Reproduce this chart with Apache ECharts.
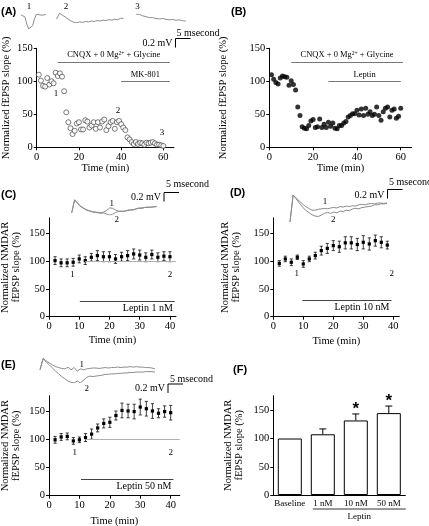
<!DOCTYPE html>
<html><head><meta charset="utf-8">
<script src="https://cdn.jsdelivr.net/npm/echarts@6/dist/echarts.min.js"></script>
<style>html,body{margin:0;padding:0;background:#fff}#c{width:429px;height:526px}</style>
</head><body><div id="c"></div>
<script>
// ---------------- DATA ----------------
const timesA = [1,2,3,4,5,6,7,8,9,10,11,12,13,14,15,16,17,18,19,20,21,22,23,24,25,26,27,28,29,30,31,32,33,34,35,36,37,38,39,40,41,42,43,44,45,46,47,48,49,50,51,52,53,54,55,56,57,58,59,60];
const valuesA = [110,101,93,92,105,95,100,97,113,108,112,107,85,53,38,29,20,25,36,38,27,27,41,39,30,33,38,28,38,30,39,42,26,32,38,40,28,38,40,35,30,26,15,12,8,5,8,5,7,6,4,7,6,7,8,6,4,4,3,2];
const timesB = [1,2,3,4,5,6,7,8,9,10,11,12,13,14,15,16,17,18,19,20,21,22,23,24,25,26,27,28,29,30,31,32,33,34,35,36,37,38,39,40,41,42,43,44,45,46,47,48,49,50,51,52,53,54,55,56,57,58,59,60];
const valuesB = [110,103,98,96,105,108,107,106,94,101,95,87,61,48,31,29,28,33,40,42,30,31,43,30,35,30,38,32,37,29,28,33,33,37,39,46,48,51,51,56,49,58,48,59,50,54,48,50,61,48,41,54,59,61,46,56,58,44,47,59];
const timesC = [2,4,6,8,10,12,14,16,18,20,22,24,26,28,30,32,34,36,38,40];
const meansC = [101,97,97,98,104,101,107,110,108,108,104,108,110,113,111,107,112,107,109,108];
const errC   = [7,7,7,7,7,7,7,9,9,9,8,8,9,9,9,8,8,8,8,9];
const timesD = [2,4,6,8,10,12,14,16,18,20,22,24,26,28,30,32,34,36,38];
const meansD = [96,104,98,107,95,104,110,119,123,128,126,133,133,130,134,131,137,134,129];
const errD   = [5,5,6,4,6,5,6,8,9,9,10,11,11,11,12,11,10,10,7];
const timesE = [2,4,6,8,10,12,14,16,18,20,22,24,26,28,30,32,34,36,38,40];
const meansE = [99,104,105,97,99,103,109,120,128,130,142,151,150,149,157,154,150,146,149,147];
const errE   = [6,6,6,6,5,7,9,7,8,9,8,13,12,13,14,13,13,8,10,13];
const catsF  = ['Baseline','1 nM','10 nM','50 nM'];
const meansF = [100,107.5,132,145];
const errF   = [0,9.5,11.5,12.5];
const sigF   = [false,false,true,true];
const xTicksAB  = [0,20,40,60];
const xTicksCDE = [0,10,20,30,40];
const yTicks    = [0,50,100,150];
// drug application bars: [label, start, end, level]
const drugA = [['CNQX + 0 Mg{sup|2+} + Glycine',10,63,129],['MK-801',40,63,100.5]];
const drugB = [['CNQX + 0 Mg{sup|2+} + Glycine',10,61,129],['Leptin',27,60,100.5]];
const drugC = [['Leptin 1 nM',10.2,41.6,27]];
const drugD = [['Leptin 10 nM',9.7,39.4,30]];
const drugE = [['Leptin 50 nM',10.5,40.9,29.6]];
const refC = [12,42,100], refD = [12,42.2,100], refE = [12,43,100];
// sample-point labels [text, time, level]
const ptLabA = [['1',9.1,81],['2',38.5,56],['3',59.4,21.6]];
const ptLabC = [['1',7.8,76],['2',40,76]];
const ptLabD = [['1',7.8,78],['2',39.5,78]];
const ptLabE = [['1',8.5,77],['2',40,77]];
// example fEPSP traces (mV, uniformly sampled)
const traceA1 = [0,0.02,-0.04,-0.2,-0.31,-0.33,-0.24,-0.09,0.02,0.02,0,0,0,0.02];
const traceA2 = [-0.02,0.11,0.07,0.03,-0.02,-0.06,-0.09,-0.10,-0.08,-0.09,-0.07,-0.08,-0.06,-0.07,-0.05,-0.06,-0.04,-0.05,-0.03,-0.04,-0.02,-0.03,0.0,0.0];
const traceA3 = [0,-0.01,-0.04,-0.06,-0.08,-0.08,-0.10,-0.11,-0.10,-0.12,-0.13,-0.12,-0.14,-0.13,-0.15,-0.16];
const traceC1 = [-0.13,0.16,0.09,0.02,-0.02,-0.06,-0.08,-0.10,-0.11,-0.12,-0.13,-0.11,-0.07,-0.02,-0.03,-0.07,-0.09,-0.10,-0.09,-0.08,-0.07,-0.06,-0.04,-0.03,-0.02,-0.01,-0.01,0,0,0.01];
const traceC2 = [-0.13,0.16,0.08,0.01,-0.03,-0.07,-0.09,-0.11,-0.12,-0.13,-0.14,-0.13,-0.16,-0.18,-0.16,-0.12,-0.10,-0.09,-0.10,-0.07,-0.06,-0.07,-0.04,-0.02,-0.03,-0.01,0,-0.01,0.01,0.01];
const traceD1 = [-0.42,0.18,0.11,0.04,-0.02,-0.08,-0.12,-0.16,-0.16,-0.14,-0.13,-0.12,-0.13,-0.11,-0.10,-0.11,-0.08,-0.09,-0.07,-0.08,-0.06,-0.07,-0.04,-0.03,-0.04,-0.02,-0.01,-0.02,0,0,-0.01,0];
const traceD2 = [-0.42,0.18,0.09,0,-0.09,-0.16,-0.21,-0.26,-0.29,-0.30,-0.27,-0.23,-0.21,-0.23,-0.20,-0.22,-0.18,-0.19,-0.16,-0.17,-0.13,-0.12,-0.13,-0.10,-0.09,-0.08,-0.07,-0.04,-0.04,-0.02,-0.02,-0.01];
const traceE1 = [-0.04,0.21,0.16,0.11,0.07,0.03,0.01,-0.01,-0.02,0.02,-0.04,0.01,-0.07,-0.02,-0.04,-0.02,-0.01,0,0,-0.01,0,0.01,0,0.01,0.01,0.02,0.01,0.02,0.02,0.03,0.02,0.03,0.02,0.02,0.01,0.01,0,-0.02];
const traceE2 = [-0.04,0.21,0.13,0.07,0,-0.07,-0.13,-0.19,-0.24,-0.29,-0.32,-0.33,-0.29,-0.33,-0.27,-0.21,-0.18,-0.19,-0.18,-0.17,-0.16,-0.14,-0.14,-0.13,-0.13,-0.12,-0.12,-0.11,-0.11,-0.10,-0.10,-0.09,-0.09,-0.09,-0.08,-0.08,-0.08,-0.09];

// ---------------- BUILD ----------------
const SERIF = 'Liberation Serif', SANS = 'Liberation Sans';
const grids = [], xAxes = [], yAxes = [], series = [], graphics = [];
function addGrid(g){ grids.push(Object.assign({outerBoundsMode:'none', containLabel:false}, g)); return grids.length - 1; }
const txt = {fontFamily:SERIF, color:'#000'};

function mainAxes(gi, xmax, xticks, ymax, yname, yGap, xGap){
  xAxes.push({type:'value', gridIndex:gi, min:0, max:xmax,
    axisLine:{show:true, onZero:false, lineStyle:{color:'#000', width:1}},
    axisTick:{show:true, length:3, customValues:xticks, lineStyle:{color:'#000'}},
    axisLabel:Object.assign({customValues:xticks, fontSize:10.5, margin:4}, txt),
    splitLine:{show:false},
    name:'Time (min)', nameLocation:'middle', nameGap:xGap, nameTextStyle:Object.assign({fontSize:10.5}, txt)});
  yAxes.push({type:'value', gridIndex:gi, min:0, max:ymax,
    axisLine:{show:true, onZero:false, lineStyle:{color:'#000', width:1}},
    axisTick:{show:true, length:3, customValues:yTicks, lineStyle:{color:'#000'}},
    axisLabel:Object.assign({customValues:yTicks, fontSize:10.5, margin:4}, txt),
    splitLine:{show:false},
    name:yname, nameLocation:'middle', nameGap:yGap, nameTextStyle:Object.assign({fontSize:10.5, lineHeight:11}, txt)});
}
function drugLines(list, pos, color, fs){
  return list.map(d => [
    {coord:[d[1], d[3]], label:{show:true, formatter:d[0], position:pos, distance:2, fontFamily:SERIF, fontSize:fs, color:'#000',
      rich:{sup:{fontSize:5.5, verticalAlign:'top', fontFamily:SERIF, padding:[0,0,4,0]}}},
     lineStyle:{color:color, width:1, type:'solid'}},
    {coord:[d[2], d[3]]}
  ]);
}
function refLine(r){
  return [[{coord:[r[0], r[2]], label:{show:false}, lineStyle:{color:'#b0b0b0', width:1, type:'solid'}}, {coord:[r[1], r[2]]}]];
}
function ptLabels(list){
  return list.map(p => ({coord:[p[1], p[2]], symbol:'circle', symbolSize:0,
    label:{show:true, formatter:p[0], position:'inside', fontFamily:SERIF, fontSize:9, color:'#000'}}));
}
function errSeries(gi, times, means, errs, extra){
  return Object.assign({type:'custom', xAxisIndex:gi, yAxisIndex:gi, z:3,
    data: times.map((t,i) => [t, means[i], errs[i]]),
    renderItem(params, api){
      const x = api.value(0), m = api.value(1), e = api.value(2);
      const p = api.coord([x, m]), hi = api.coord([x, m + e]), lo = api.coord([x, m - e]);
      const w = 1.6, st = {stroke:'#111', lineWidth:0.8};
      return {type:'group', children:[
        {type:'line', shape:{x1:p[0], y1:hi[1], x2:p[0], y2:lo[1]}, style:st},
        {type:'line', shape:{x1:p[0]-w, y1:hi[1], x2:p[0]+w, y2:hi[1]}, style:st},
        {type:'line', shape:{x1:p[0]-w, y1:lo[1], x2:p[0]+w, y2:lo[1]}, style:st},
        {type:'rect', shape:{x:p[0]-1.6, y:p[1]-1.6, width:3.2, height:3.2}, style:{fill:'#000'}}
      ]};
    }}, extra || {});
}
const PX_PER_MV = 45;
function traceGrid(left, width, baseY, traces){
  const all = [].concat(...traces);
  const mx = Math.max(...all), mn = Math.min(...all);
  const gi = addGrid({left:left, top:baseY - mx*PX_PER_MV, width:width, height:(mx - mn)*PX_PER_MV});
  const n = traces[0].length;
  xAxes.push({type:'value', gridIndex:gi, min:0, max:n-1, show:false});
  yAxes.push({type:'value', gridIndex:gi, min:mn, max:mx, show:false});
  traces.forEach(tr => series.push({type:'line', xAxisIndex:gi, yAxisIndex:gi, symbol:'none', silent:true,
    data: tr.map((v,i) => [i, v]), lineStyle:{color:'#8c8c8c', width:1}}));
}
function scaleBar(x, y, txtX, mvY, msY){
  graphics.push({type:'line', shape:{x1:x, y1:y, x2:x, y2:y+9}, style:{stroke:'#000', lineWidth:1}});
  graphics.push({type:'line', shape:{x1:x, y1:y, x2:x+15, y2:y}, style:{stroke:'#000', lineWidth:1}});
  graphics.push({type:'text', x:x-3, y:mvY, style:{text:'0.2 mV', fontFamily:SERIF, fontSize:10, fill:'#000', align:'right', verticalAlign:'middle'}});
  graphics.push({type:'text', x:txtX, y:msY, style:{text:'5 msecond', fontFamily:SERIF, fontSize:10, fill:'#000', align:'left', verticalAlign:'middle'}});
}
function gtext(t, x, y, fs){
  graphics.push({type:'text', x:x, y:y, style:{text:t, fontFamily:SERIF, fontSize:fs||9, fill:'#000', align:'center', verticalAlign:'middle'}});
}

// Panel A
const gA = addGrid({left:36.7, top:48.3, width:137.2, height:99});
mainAxes(gA, 65, xTicksAB, 150, 'Normalized fEPSP slope (%)', 25, 15);
series.push({type:'scatter', xAxisIndex:gA, yAxisIndex:gA, data:timesA.map((t,i)=>[t, valuesA[i]]),
  symbol:'circle', symbolSize:5, itemStyle:{color:'#fff', borderColor:'#333', borderWidth:0.8},
  markLine:{silent:true, symbol:'none', data:drugLines(drugA, 'insideMiddleTop', '#777', 8.5)},
  markPoint:{silent:true, data:ptLabels(ptLabA)}});
// Panel B
const gB = addGrid({left:269.3, top:48.3, width:142.4, height:99});
mainAxes(gB, 65, xTicksAB, 150, 'Normalized fEPSP slope (%)', 41, 15);
series.push({type:'scatter', xAxisIndex:gB, yAxisIndex:gB, data:timesB.map((t,i)=>[t, valuesB[i]]),
  symbol:'circle', symbolSize:5, itemStyle:{color:'#000'},
  markLine:{silent:true, symbol:'none', data:drugLines(drugB, 'insideMiddleTop', '#777', 8.5)}});
// Panel C
const NM = 'Normalized NMDAR\nfEPSP slope (%)';
const gC = addGrid({left:49, top:316.7 - 178*0.5553, width:127, height:178*0.5553});
mainAxes(gC, 42, xTicksCDE, 178, NM, 27, 18);
series.push(errSeries(gC, timesC, meansC, errC, {
  markLine:{silent:true, symbol:'none', data:drugLines(drugC, 'insideEndBottom', '#444', 10).concat(refLine(refC))},
  markPoint:{silent:true, data:ptLabels(ptLabC)}}));
// Panel D
const gD = addGrid({left:273.3, top:316.7 - 178*0.5553, width:126, height:178*0.5553});
mainAxes(gD, 42, xTicksCDE, 178, NM, 32, 19);
series.push(errSeries(gD, timesD, meansD, errD, {
  markLine:{silent:true, symbol:'none', data:drugLines(drugD, 'insideEndBottom', '#444', 10).concat(refLine(refD))},
  markPoint:{silent:true, data:ptLabels(ptLabD)}}));
// Panel E
const gE = addGrid({left:49, top:495.7 - 177*0.5647, width:130.8, height:177*0.5647});
mainAxes(gE, 43, xTicksCDE, 177, NM, 27, 20);
series.push(errSeries(gE, timesE, meansE, errE, {
  markLine:{silent:true, symbol:'none', data:drugLines(drugE, 'insideEndBottom', '#444', 10).concat(refLine(refE))},
  markPoint:{silent:true, data:ptLabels(ptLabE)}}));
// Panel F
const gF = addGrid({left:273.3, top:495 - 176*0.5647, width:132, height:176*0.5647});
xAxes.push({type:'category', gridIndex:gF, data:catsF,
  axisLine:{show:true, lineStyle:{color:'#000'}}, axisTick:{show:false},
  axisLabel:Object.assign({fontSize:9, margin:4, interval:0}, txt)});
yAxes.push({type:'value', gridIndex:gF, min:0, max:176,
  axisLine:{show:true, lineStyle:{color:'#000'}},
  axisTick:{show:true, length:3, customValues:yTicks, lineStyle:{color:'#000'}},
  axisLabel:Object.assign({customValues:yTicks, fontSize:10.5, margin:4}, txt),
  splitLine:{show:false},
  name:NM, nameLocation:'middle', nameGap:29, nameTextStyle:Object.assign({fontSize:10.5, lineHeight:11}, txt)});
series.push({type:'bar', xAxisIndex:gF, yAxisIndex:gF, data:meansF, barWidth:24,
  itemStyle:{color:'#fff', borderColor:'#000', borderWidth:1}});
series.push({type:'custom', xAxisIndex:gF, yAxisIndex:gF, z:4,
  data: catsF.map((c,i) => [i, meansF[i], errF[i], sigF[i] ? 1 : 0]),
  renderItem(params, api){
    const i = api.value(0), m = api.value(1), e = api.value(2), s = api.value(3);
    const p = api.coord([i, m]), hi = api.coord([i, m + e]);
    const st = {stroke:'#000', lineWidth:1}, ch = [];
    if (e > 0) {
      ch.push({type:'line', shape:{x1:p[0], y1:p[1], x2:p[0], y2:hi[1]}, style:st});
      ch.push({type:'line', shape:{x1:p[0]-3.5, y1:hi[1], x2:p[0]+3.5, y2:hi[1]}, style:st});
    }
    if (s) ch.push({type:'text', x:p[0], y:hi[1]+4, style:{text:'*', fontFamily:SANS, fontSize:17, fontWeight:'bold', fill:'#000', align:'center', verticalAlign:'bottom'}});
    return {type:'group', children:ch};
  }});

// Traces
traceGrid(21, 25, 15, [traceA1]);
traceGrid(56.5, 67, 18.3, [traceA2]);
traceGrid(136, 50, 14, [traceA3]);
traceGrid(71.7, 85, 207, [traceC1, traceC2]);
traceGrid(290, 97, 203, [traceD1, traceD2]);
traceGrid(40, 115, 368, [traceE1, traceE2]);
gtext('1', 29, 6.5, 9); gtext('2', 66, 6.5, 9); gtext('3', 137.5, 6.5, 9);
gtext('1', 111.7, 204); gtext('2', 116.7, 219.3);
gtext('1', 325, 201.7); gtext('2', 333.3, 219.3);
gtext('1', 81.7, 364.3); gtext('2', 86.7, 388.3);
scaleBar(175.5, 38.5, 176.5, 43, 33.5);
scaleBar(164, 192.5, 166, 197, 184);
scaleBar(387.5, 189.5, 389, 195, 182.5);
scaleBar(168, 384, 170, 388.5, 379);

// Panel letters
const panelLab = [['(A)',1,6],['(B)',231,6],['(C)',1,189],['(D)',230,187],['(E)',1,359],['(F)',233,364]];
const titles = panelLab.map(p => ({text:p[0], left:p[1], top:p[2], padding:0,
  textStyle:{fontFamily:SANS, fontSize:11, fontWeight:'bold', color:'#000'}}));

const chart = echarts.init(document.getElementById('c'));
chart.setOption({animation:false, backgroundColor:'#fff', title:titles, grid:grids, xAxis:xAxes, yAxis:yAxes, series:series, graphic:graphics});

// Leptin grouping under panel F
const c1 = chart.convertToPixel({xAxisIndex:gF}, '1 nM');
const c3 = chart.convertToPixel({xAxisIndex:gF}, '50 nM');
const baseF = chart.convertToPixel({yAxisIndex:gF}, 0);
const lx1 = c1 - 10, lx2 = c3 + 17, ly = baseF + 14;
graphics.push({type:'line', shape:{x1:lx1, y1:ly, x2:lx2, y2:ly}, style:{stroke:'#000', lineWidth:0.8}});
graphics.push({type:'text', x:(lx1+lx2)/2, y:ly+7.5, style:{text:'Leptin', fontFamily:SERIF, fontSize:9, fill:'#000', align:'center', verticalAlign:'middle'}});
chart.setOption({graphic:graphics});
</script></body></html>
